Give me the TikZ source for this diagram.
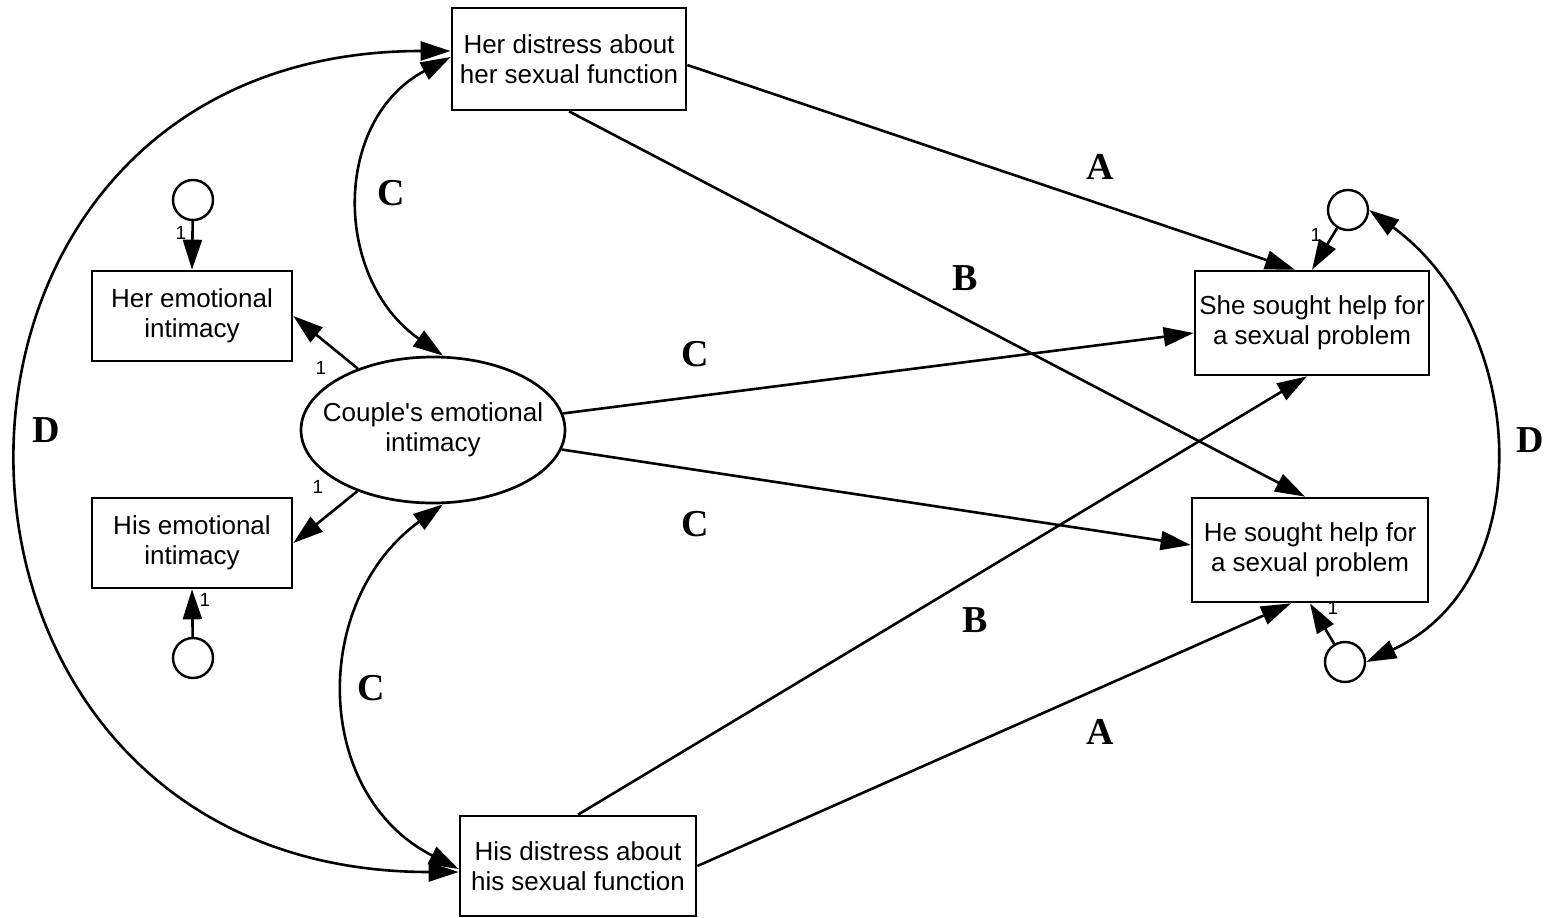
\documentclass[tikz,border=0pt]{standalone}
\usepackage{fontspec}
\setmainfont{Liberation Sans}
\newfontfamily\labelfont{Liberation Serif}
\usetikzlibrary{positioning,shapes,arrows.meta}

\begin{document}
\begin{tikzpicture}[x=1pt, y=1pt, >={Triangle[length=30pt,width=19pt]},
	pathlabel/.style={font=\labelfont\bfseries\fontsize{38}{38}\selectfont},
	one/.style={font=\fontsize{19}{19}\selectfont, inner sep=1pt}]
		\useasboundingbox (0,0) rectangle (1545,-918);
		\begin{scope}[every node/.style={rectangle,draw,line width=2.7pt,align=center,inner sep=0pt,font=\fontsize{26}{30}\selectfont}]
			\node[minimum width=234pt, minimum height=102pt] (herd) at (569,-59) {Her distress about\\her sexual function};
			\node[minimum width=236pt, minimum height=100pt] (hisd) at (578,-866) {His distress about\\his sexual function};
			\node[minimum width=200pt, minimum height=90pt] (here) at (192,-316) {Her emotional\\intimacy};
			\node[minimum width=200pt, minimum height=90pt] (hise) at (192,-543) {His emotional\\intimacy};
			\node[ellipse, inner xsep=-17pt, minimum width=264pt, minimum height=146pt] (couple) at (433,-430) {Couple\textquotesingle s emotional\\intimacy};
			\node[minimum width=234pt, minimum height=104pt] (shes) at (1312,-323) {She sought help for\\a sexual problem};
			\node[minimum width=236pt, minimum height=104pt] (hes) at (1310,-550) {He sought help for\\a sexual problem};
		\end{scope}
		\begin{scope}[every node/.style={circle,draw,line width=2.4pt,minimum size=40pt,inner sep=0pt}]
			\node (eher) at (193,-200) {};
			\node (ehis) at (193,-658) {};
			\node (eshe) at (1348,-210) {};
			\node (ehe) at (1345,-662) {};
		\end{scope}
		% direct paths
		\begin{scope}[->, line width=2.6pt]
			\draw ([yshift=-6pt]herd.east) -- ([xshift=-17pt]shes.north);
			\draw (herd.south) -- ([xshift=-5pt]hes.north);
			\draw (hisd.north) -- ([xshift=-5pt]shes.south);
			\draw (hisd.east) -- ([xshift=-19pt]hes.south);
			\draw (couple) -- ([yshift=-10pt]shes.west);
			\draw (couple) -- ([yshift=5pt]hes.west);
			\draw (couple) -- (here.east);
			\draw (couple) -- (hise.east);
			\draw (eher) -- (here.north);
			\draw (ehis) -- (hise.south);
			\draw (eshe) -- (shes.north);
			\draw (ehe) -- (hes.south);
		\end{scope}
		% covariances
		\begin{scope}[<->, line width=2.6pt]
			\draw ([yshift=8pt]herd.west) to[out=180,in=180,looseness=1.8] ([yshift=-6pt]hisd.west);
			\draw ([yshift=2pt]herd.west) to[out=208,in=145,looseness=1.15] ([xshift=10pt]couple.north);
			\draw ([xshift=10pt]couple.south) to[out=216,in=153,looseness=1.15] ([yshift=-3pt]hisd.west);
			\draw (eshe.east) to[out=-36,in=25,looseness=1.1] (ehe.east);
		\end{scope}
		% loadings
		\node[one] (n1) at (181,-233) {1};
		\node[one] (n2) at (321,-368) {1};
		\node[one] (n3) at (318,-487) {1};
		\node[one] (n4) at (205,-600) {1};
		\node[one] (n5) at (1316,-235) {1};
		\node[one] (n6) at (1333,-608) {1};
		% path labels
		\node[pathlabel] (la1) at (1100,-167) {A};
		\node[pathlabel] (lb1) at (965,-278) {B};
		\node[pathlabel] (lc1) at (391,-193) {C};
		\node[pathlabel] (lc2) at (695,-354) {C};
		\node[pathlabel] (lc3) at (695,-524) {C};
		\node[pathlabel] (ld1) at (46,-430) {D};
		\node[pathlabel] (ld2) at (1530,-440) {D};
		\node[pathlabel] (lb2) at (975,-620) {B};
		\node[pathlabel] (lc4) at (371,-688) {C};
		\node[pathlabel] (la2) at (1100,-732) {A};
	\end{tikzpicture}
\end{document}
